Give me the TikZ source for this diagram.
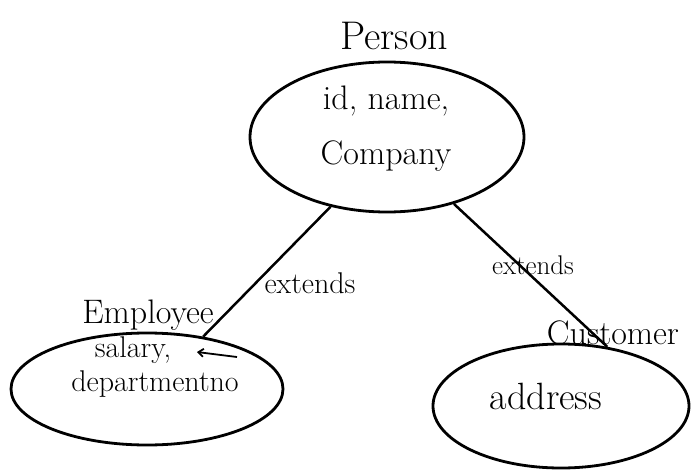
\documentclass[tikz,border=0pt]{standalone}
\usetikzlibrary{shapes.geometric,arrows.meta}
\begin{document}
\begin{tikzpicture}[x=1pt,y=-1pt,
  blob/.style={ellipse,draw,line width=2.8pt,inner sep=0pt},
  txt/.style={inner sep=0pt,font=\fontsize{#1}{#1}\selectfont},
  link/.style={line width=2.5pt}]
\useasboundingbox (0,0) rectangle (699,474);
% Person
\node[txt=40] (ptitle) at (394,36) {Person};
\node[blob,minimum width=274pt,minimum height=150pt] (person) at (387,137) {};
\node[txt=34] (pattr1) at (386,101) {id, name,};
\node[txt=34] (pattr2) at (386,156) {Company};
% Employee
\node[blob,minimum width=272pt,minimum height=112pt] (emp) at (147,389) {};
\node[txt=34] (etitle) at (148,315) {Employee};
\node[txt=30] (eattr1) at (133,350) {salary,};
\node[txt=30] (eattr2) at (155,384) {departmentno};
\coordinate (atail) at (237,357);
\draw[line width=1.8pt,-{Straight Barb[length=5pt,width=8pt]}] (atail) -- (197,352);
% Customer
\node[blob,minimum width=256pt,minimum height=124pt] (cust) at (561,406) {};
\node[txt=34] (ctitle) at (613,333) {Customer};
\node[txt=38] (cattr) at (546,396) {address};
% connectors
\draw[link] (person.231) -- (emp.43);
\draw[link] (person.315) -- (cust.52);
\node[txt=30] (ext1) at (310,283) {extends};
\node[txt=27] (ext2) at (533,265) {extends};
\end{tikzpicture}
\end{document}
